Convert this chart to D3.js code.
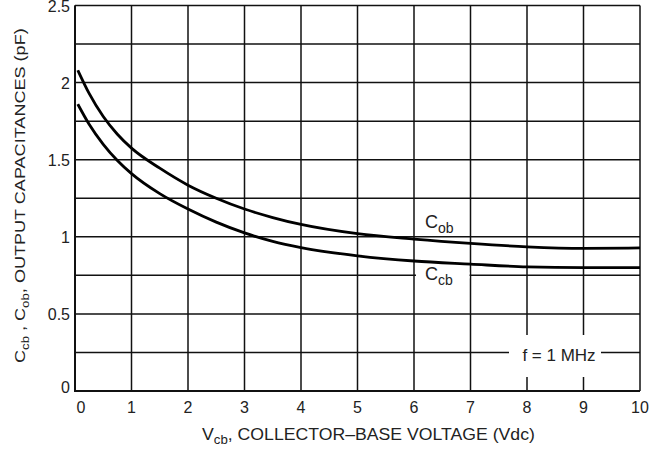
<!DOCTYPE html>
<html>
<head lang="en">
	<meta charset="UTF-8">
	<title>Output capacitances</title>
	<style>
	body { margin: 0; background: #fff; }
	text { font-family: "Liberation Sans Narrow", "Arial Narrow", "Liberation Sans", Arial, sans-serif; fill: #222; }
	.grid { stroke: #111; stroke-width: 1.5; }
	.frame { stroke: #111; stroke-width: 2; fill: none; }
	.curve { fill: none; stroke: #000; stroke-width: 2.8; }
	</style>
	<script src="https://cdn.jsdelivr.net/npm/d3@7"></script>
</head>
<body>
<script>
	// data
	var vcb = [0.05, 0.25, 0.5, 0.75, 1, 1.5, 2, 2.5, 3, 3.5, 4, 5, 6, 7, 8, 9, 10];
	var cob = [2.08, 1.93, 1.78, 1.665, 1.575, 1.445, 1.335, 1.25, 1.18, 1.125, 1.08, 1.02, 0.985, 0.957, 0.935, 0.925, 0.928];
	var ccb = [1.86, 1.73, 1.60, 1.495, 1.41, 1.28, 1.18, 1.095, 1.025, 0.97, 0.93, 0.877, 0.843, 0.823, 0.805, 0.80, 0.80];
	var xTicks = [0, 1, 2, 3, 4, 5, 6, 7, 8, 9, 10];
	var yTicks = [0, 0.5, 1, 1.5, 2, 2.5];
	var yGrid = [0, 0.25, 0.5, 0.75, 1, 1.25, 1.5, 1.75, 2, 2.25, 2.5];

	var width = 665, height = 451;

	var svg = d3.select("body").append("svg")
		.attr("width", width)
		.attr("height", height);

	var x = d3.scaleLinear().domain([0, 10]).range([75, 640]);
	var y = d3.scaleLinear().domain([0, 2.5]).range([391, 5.5]);

	// grid
	svg.selectAll("line.h").data(yGrid).enter().append("line")
		.attr("class", "grid h")
		.attr("x1", x(0)).attr("x2", x(10))
		.attr("y1", function(d){ return y(d); })
		.attr("y2", function(d){ return y(d); });

	svg.selectAll("line.v").data(xTicks).enter().append("line")
		.attr("class", "grid v")
		.attr("y1", y(0)).attr("y2", y(2.5))
		.attr("x1", function(d){ return x(d); })
		.attr("x2", function(d){ return x(d); });

	// left and bottom frame slightly heavier
	svg.append("path").attr("class", "frame")
		.attr("d", "M" + x(0) + "," + y(2.5) + "V" + y(0) + "H" + x(10));

	// tick labels
	svg.selectAll("text.xt").data(xTicks).enter().append("text")
		.attr("class", "xt")
		.attr("x", function(d){ return x(d) + (d === 0 ? 6 : 0); })
		.attr("y", 413)
		.attr("text-anchor", "middle")
		.style("font-size", "16px")
		.text(function(d){ return d; });

	svg.selectAll("text.yt").data(yTicks).enter().append("text")
		.attr("class", "yt")
		.attr("x", 70)
		.attr("y", function(d){ return y(d) + (d === 0 ? 2 : 6); })
		.attr("text-anchor", "end")
		.style("font-size", "16px")
		.text(function(d){ return d; });

	// curves
	var line = d3.line()
		.x(function(d){ return x(d[0]); })
		.y(function(d){ return y(d[1]); })
		.curve(d3.curveMonotoneX);

	svg.append("path").attr("class", "curve")
		.attr("d", line(d3.zip(vcb, cob)));
	svg.append("path").attr("class", "curve")
		.attr("d", line(d3.zip(vcb, ccb)));

	// white patches behind the labels
	svg.append("rect").attr("fill", "#fff")
		.attr("x", x(6) + 2).attr("width", x(7) - x(6) - 3)
		.attr("y", y(0.75) - 3).attr("height", 6);
	svg.append("rect").attr("fill", "#fff")
		.attr("x", 509).attr("width", 92)
		.attr("y", 335).attr("height", 42);

	// curve labels
	function subLabel(px, py, main, sub, size, subSize){
		var t = svg.append("text").attr("x", px).attr("y", py).style("font-size", size + "px");
		t.append("tspan").text(main);
		t.append("tspan").attr("dy", 5).style("font-size", subSize + "px").text(sub);
		return t;
	}
	subLabel(425, 228, "C", "ob", 18, 14);
	subLabel(425, 280, "C", "cb", 18, 14);

	svg.append("text")
		.attr("x", 559).attr("y", 361)
		.attr("text-anchor", "middle")
		.style("font-size", "17px")
		.text("f = 1 MHz");

	// axis titles, squeezed to the measured length
	function fit(sel, len){
		var w = sel.node().getComputedTextLength();
		return len / w;
	}

	var xt = svg.append("text").attr("y", 440).style("font-size", "16px");
	xt.append("tspan").text("V");
	xt.append("tspan").attr("dy", 4).style("font-size", "12px").text("cb");
	xt.append("tspan").attr("dy", -4).text(", COLLECTOR\u2013BASE VOLTAGE (Vdc)");
	var sx = fit(xt, 333);
	xt.attr("transform", "translate(202,0)scale(" + sx + ",1)");

	var yl = svg.append("text").style("font-size", "15px");
	yl.append("tspan").text("C");
	yl.append("tspan").attr("dy", 4).style("font-size", "11px").text("cb");
	yl.append("tspan").attr("dy", -4).text(" , C");
	yl.append("tspan").attr("dy", 4).style("font-size", "11px").text("ob");
	yl.append("tspan").attr("dy", -4).text(", OUTPUT CAPACITANCES (pF)");
	var sy = fit(yl, 335);
	yl.attr("transform", "translate(25,363)rotate(-90)scale(" + sy + ",1)");
</script>
</body>
</html>
